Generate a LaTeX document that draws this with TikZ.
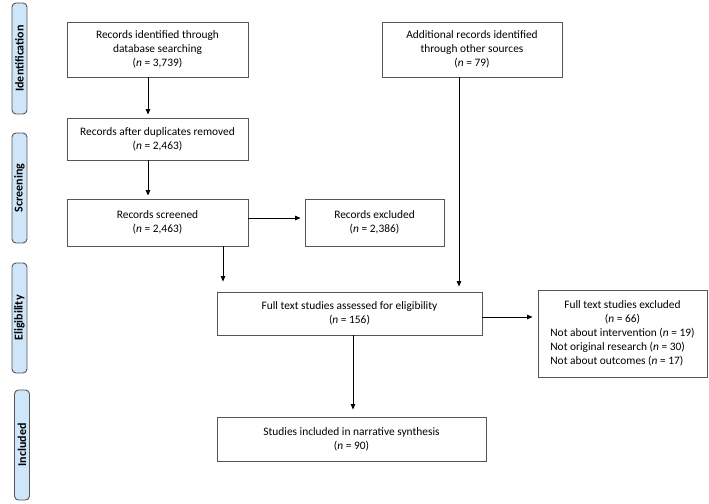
\documentclass[tikz,border=0pt]{standalone}
\usepackage{fontspec}
\setmainfont{Carlito}
\usetikzlibrary{arrows.meta}
\definecolor{phasefill}{HTML}{CFE6FA}
\definecolor{edgegray}{HTML}{555555}
\begin{document}
\begin{tikzpicture}[x=1pt,y=-1pt,
 box/.style={draw=edgegray, line width=0.9pt, fill=white, align=center, font=\fontsize{11.4}{14}\selectfont, inner sep=0pt},
 phase/.style={draw=edgegray, line width=0.9pt, fill=phasefill, rounded corners=4pt, rotate=90, font=\fontsize{12}{14}\selectfont\bfseries, inner sep=0pt, minimum height=15pt},
 arr/.style={-{Triangle[length=5.5pt,width=4.5pt]}, line width=0.8pt, black}]
\useasboundingbox (0,0) rectangle (709,503);
% phase bars
\node[phase, minimum width=111pt] (ph1) at (19.5,58.5) {Identification};
\node[phase, minimum width=110pt] (ph2) at (19.5,188) {Screening};
\node[phase, minimum width=110pt] (ph3) at (19.5,318) {Eligibility};
\node[phase, minimum width=110pt] (ph4) at (22,445) {Included};
% boxes
\node[box, minimum width=181pt, minimum height=55pt] (A) at (157.5,49.5) {Records identified through\\database searching\\(\textit{n} = 3,739)};
\node[box, minimum width=180pt, minimum height=55pt] (B) at (472,49.5) {Additional records identified\\through other sources\\(\textit{n} = 79)};
\node[box, minimum width=181pt, minimum height=42pt] (C) at (157.5,139) {Records after duplicates removed\\(\textit{n} = 2,463)};
\node[box, minimum width=181pt, minimum height=47pt] (D) at (157.5,222.5) {Records screened\\(\textit{n} = 2,463)};
\node[box, minimum width=139pt, minimum height=47pt] (E) at (374.5,222.5) {Records excluded\\(\textit{n} = 2,386)};
\node[box, minimum width=265pt, minimum height=43pt] (F) at (349.5,313.5) {Full text studies assessed for eligibility\\(\textit{n} = 156)};
\node[box, minimum width=169pt, minimum height=87pt] (G) at (622.5,333.5) {\begin{tabular}{@{}l@{}}\multicolumn{1}{@{}c@{}}{Full text studies excluded}\\\multicolumn{1}{@{}c@{}}{(\textit{n} = 66)}\\Not about intervention (\textit{n} = 19)\\Not original research (\textit{n} = 30)\\Not about outcomes (\textit{n} = 17)\end{tabular}};
\node[box, minimum width=269pt, minimum height=44pt] (H) at (351.5,439) {Studies included in narrative synthesis\\(\textit{n} = 90)};
% connector anchors
\coordinate (xa) at (148,0);
\coordinate (yde) at (0,218);
\coordinate (xdf) at (223,0);
\coordinate (xbf) at (459,0);
\coordinate (yfg) at (0,317);
\coordinate (xfh) at (353,0);
% connectors
\draw[arr, shorten >=3pt] (A.south -| xa) -- (C.north -| xa);
\draw[arr, shorten >=3pt] (C.south -| xa) -- (D.north -| xa);
\draw[arr, shorten >=4pt] (D.east |- yde) -- (E.west |- yde);
\draw[arr, shorten >=10pt] (D.south -| xdf) -- (F.north -| xdf);
\draw[arr, shorten >=5pt] (B.south -| xbf) -- (F.north -| xbf);
\draw[arr, shorten >=5pt] (F.east |- yfg) -- (G.west |- yfg);
\draw[arr, shorten >=7pt] (F.south -| xfh) -- (H.north -| xfh);
\end{tikzpicture}
\end{document}
